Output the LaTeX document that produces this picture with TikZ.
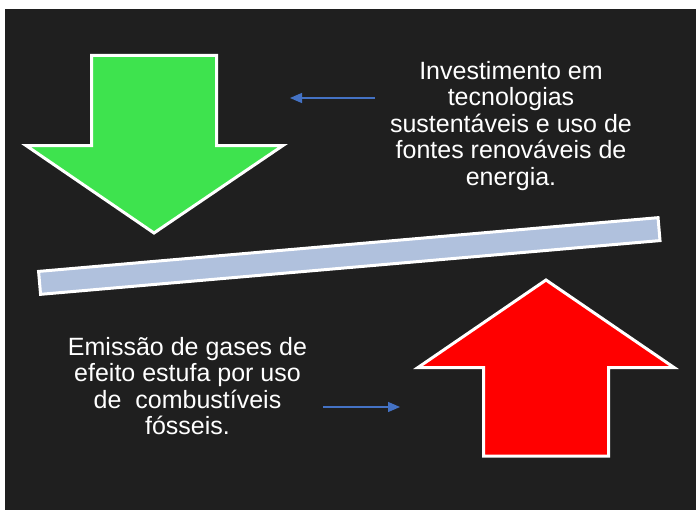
\documentclass[tikz,border=0pt]{standalone}
\usepackage{fontspec}
\setmainfont{Liberation Sans}
\usetikzlibrary{arrows.meta}
\definecolor{slide}{HTML}{1F1F1F}
\definecolor{greenfill}{HTML}{3EE34E}
\definecolor{redfill}{HTML}{FF0000}
\definecolor{beamfill}{HTML}{B0C1DD}
\definecolor{linkblue}{HTML}{4472C4}
\tikzset{
  >={Triangle[length=12pt,width=10pt]},
  bigarrow/.style={draw=white,line width=3pt,line join=miter},
  beam/.style={rectangle,draw=white,line width=3pt,fill=beamfill,inner sep=0pt},
  caption/.style={text=white,align=center,inner sep=0pt,
                  font=\fontsize{25}{26.5}\selectfont},
  pointer/.style={->,line width=1.3pt,draw=linkblue}
}

\begin{document}
\begin{tikzpicture}[x=1pt,y=-1pt]
  % Slide background
  \fill[white] (0,0) rectangle (697,511);
  \fill[slide] (5,9) rectangle (696,510);
  \useasboundingbox (0,0) rectangle (697,511);

  % Downward arrow
  \filldraw[bigarrow,fill=greenfill] (91.5,55.5) -- (216.5,55.5)
    -- (216.5,145.5) -- (283,145.5) -- (154,233) -- (26,145.5)
    -- (91.5,145.5) -- cycle;

  % Beam
  \node[beam,minimum width=621.8pt,minimum height=23pt,rotate=4.96]
    (beam) at (349.3,256) {};

  % Upward arrow
  \filldraw[bigarrow,fill=redfill] (546,280) -- (674,367.5)
    -- (608.5,367.5) -- (608.5,456) -- (483.5,456) -- (483.5,367.5)
    -- (418,367.5) -- cycle;

  % Captions
  \node[caption] (invest) at (511,126)
    {Investimento em\\tecnologias\\sustentáveis e uso de\\
     fontes renováveis de\\energia.};
  \node[caption] (emission) at (187.5,386)
    {Emissão de gases de\\efeito estufa por uso\\de\ \ combustíveis\\
     fósseis.};

  % Pointers
  \coordinate (investtail) at (375,98);
  \coordinate (investtip) at (290,98);
  \coordinate (emissiontail) at (323,407);
  \coordinate (emissiontip) at (400,407);
  \draw[pointer] (investtail) -- (investtip);
  \draw[pointer] (emissiontail) -- (emissiontip);
\end{tikzpicture}
\end{document}
